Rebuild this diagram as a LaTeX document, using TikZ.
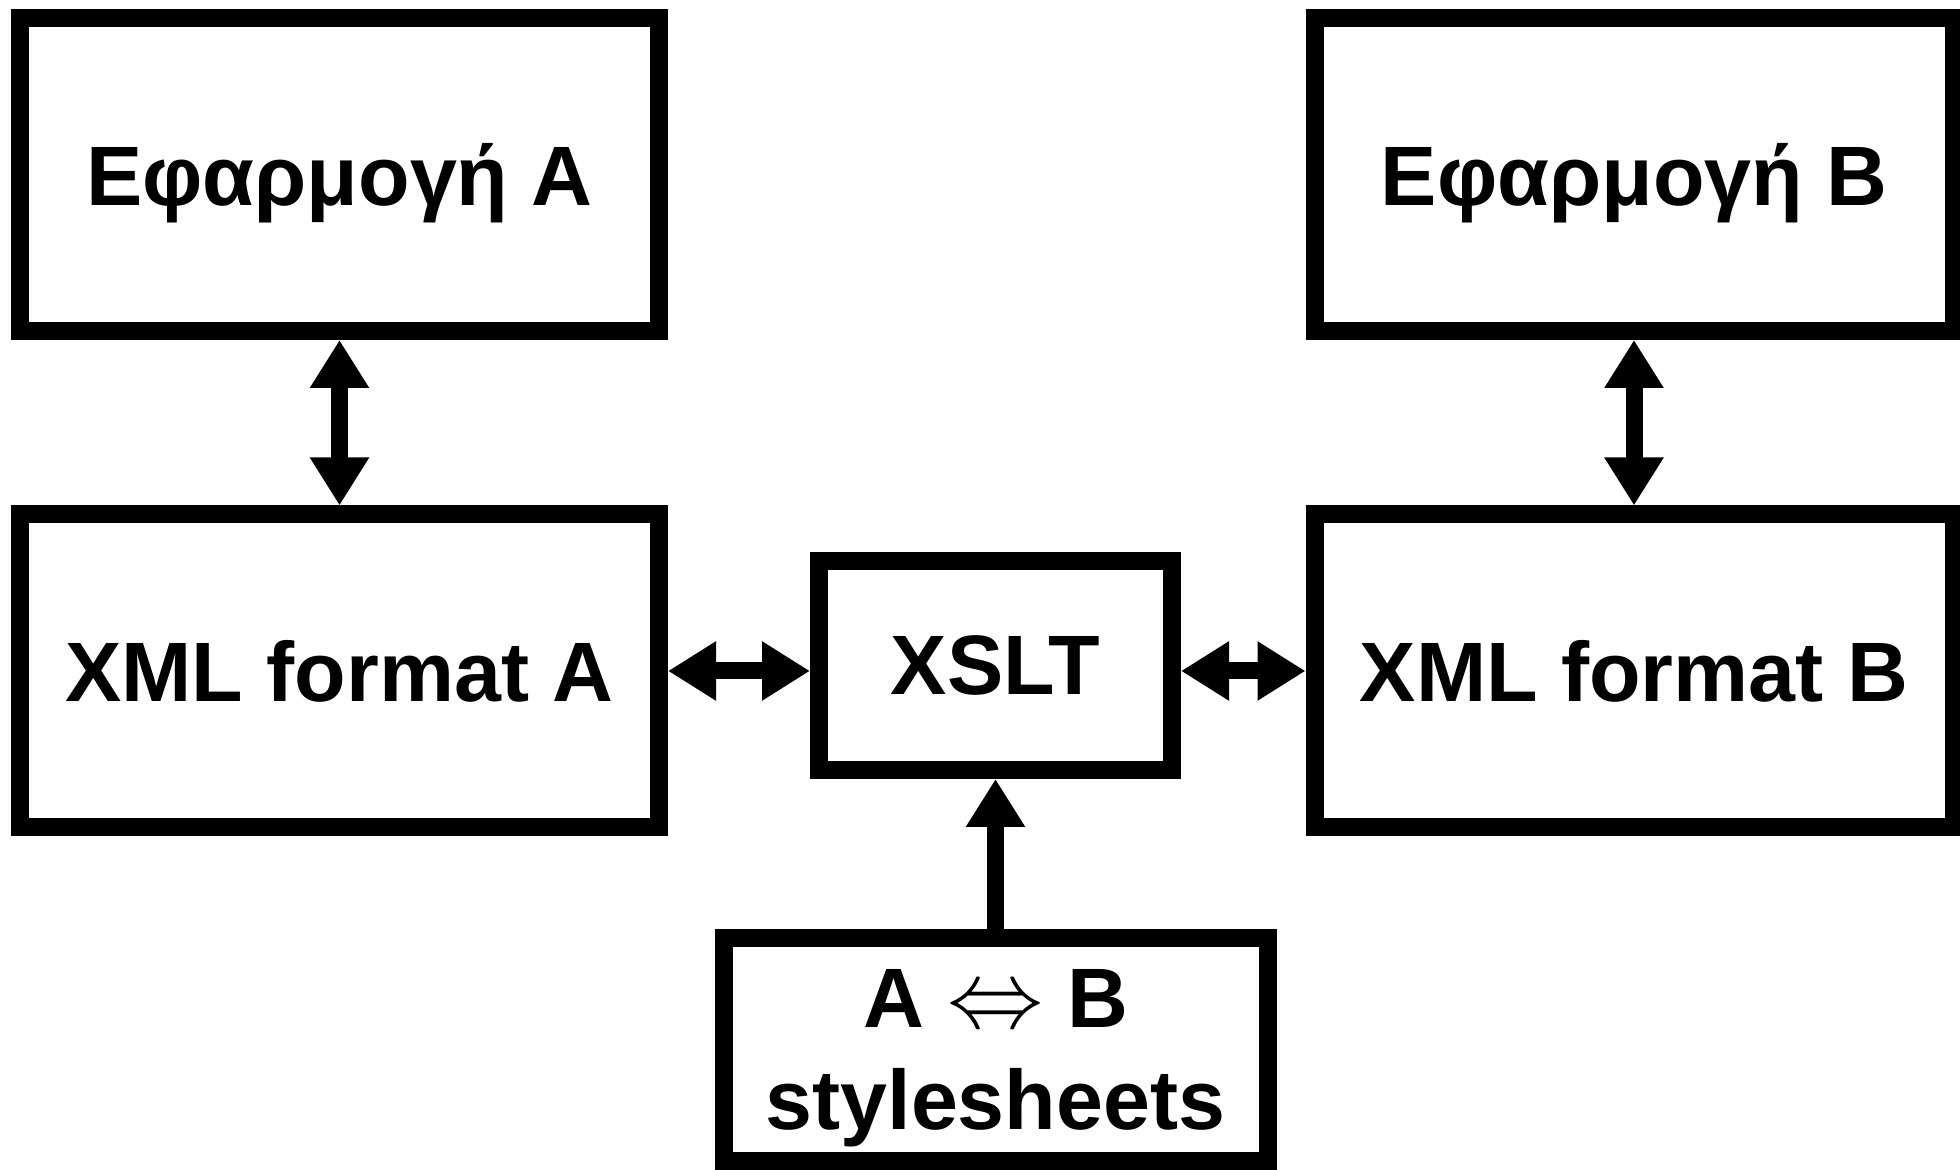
\documentclass[tikz,border=0pt]{standalone}
\usepackage{fontspec}
\setmainfont{Liberation Sans}
\usetikzlibrary{arrows.meta, positioning}

\begin{document}
\begin{tikzpicture}[>={Triangle[length=0.48cm,width=0.56cm]},node distance=2cm,on grid,
    block/.style={draw,line width=0.18cm,minimum width=6.39cm,minimum height=3.13cm,inner sep=0pt,
      font=\fontsize{24}{29}\selectfont\bfseries,text depth=0pt,align=center},
    xsl/.style={block,minimum width=3.53cm,minimum height=2.09cm},
    sheet/.style={block,minimum width=5.44cm,minimum height=2.23cm},
    link/.style={line width=0.17cm}]
    \useasboundingbox (0,0) rectangle (19.6,11.7);

      \node[block]  (appA)  at (3.395,9.955)         {Εφαρμογή A};
      \node[block]  (appB)  [right=12.945cm of appA] {Εφαρμογή B};
      \node[block]  (xmlA)  [below=4.965cm of appA]  {XML format A};
      \node[block]  (xmlB)  [below=4.965cm of appB]  {XML format B};
      \node[xsl]    (xslt)  at (9.955,5.045)         {XSLT};
      \node[sheet]  (sheets) [below=3.84cm of xslt]
            {A \scalebox{1.1}{$\Leftrightarrow$} B\\stylesheets};

      \path[link,<->] (appA) edge (xmlA)
                      (appB) edge (xmlB)
                      (xmlA.east) edge (xmlA.east -| xslt.west)
                      (xmlB.west) edge (xmlB.west -| xslt.east);
      \path[link,->]  (sheets) edge (xslt);
    \end{tikzpicture}
\end{document}
